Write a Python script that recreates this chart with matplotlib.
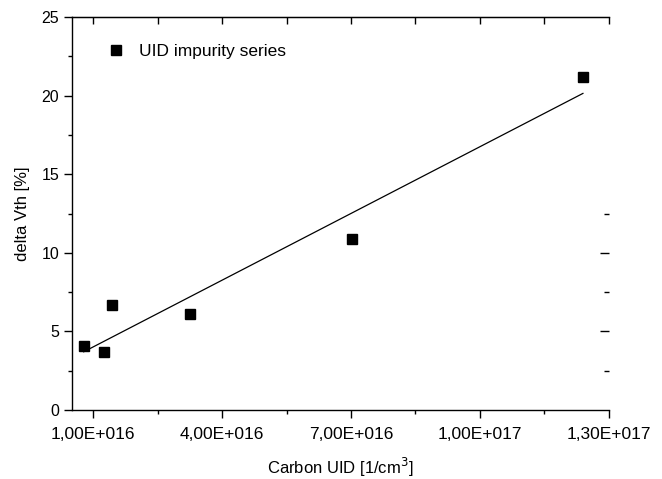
import numpy as np
import matplotlib.pyplot as plt
from matplotlib.ticker import FixedLocator, FixedFormatter, MultipleLocator

plt.rcParams['font.family'] = ['Liberation Sans', 'DejaVu Sans']

# measured data (carbon UID in 1/cm^3, delta Vth in %)
carbon = np.array([0.78e16, 1.26e16, 1.43e16, 3.25e16, 7.03e16, 12.40e16])
dvth = np.array([4.05, 3.69, 6.68, 6.11, 10.88, 21.18])

xticks = [1e16, 4e16, 7e16, 1e17, 1.3e17]
xminor = [2.5e16, 5.5e16, 8.5e16, 1.15e17]
xticklabels = ['1,00E+016', '4,00E+016', '7,00E+016', '1,00E+017', '1,30E+017']

# linear fit drawn over the data range
slope, icept = np.polyfit(carbon, dvth, 1)
xfit = np.array([carbon.min(), carbon.max()])
yfit = slope * xfit + icept

fig = plt.figure(figsize=(6.62, 4.79), dpi=100)
ax = fig.add_axes([0.1083, 0.144, 0.8112, 0.8205])

ax.plot(carbon, dvth, 's', color='black', ms=7, label='UID impurity series')
ax.plot(xfit, yfit, '-', color='black', lw=0.9)

ax.set_xlim(0.5e16, 1.3e17)
ax.set_ylim(0, 25)

ax.xaxis.set_major_locator(FixedLocator(xticks))
ax.xaxis.set_major_formatter(FixedFormatter(xticklabels))
ax.xaxis.set_minor_locator(FixedLocator(xminor))
ax.yaxis.set_major_locator(MultipleLocator(5))
ax.yaxis.set_minor_locator(MultipleLocator(2.5))

ax.spines['right'].set_visible(False)
for s in ['left', 'bottom', 'top']:
    ax.spines[s].set_linewidth(1.0)

ax.tick_params(axis='x', which='major', direction='out', length=6, width=1, labelsize=12.5, pad=6)
ax.tick_params(axis='x', which='minor', direction='out', length=3, width=1)
ax.tick_params(axis='y', which='major', direction='out', length=6, width=1, labelsize=11.5, pad=3)
ax.tick_params(axis='y', which='minor', direction='out', length=3, width=1)

# top ticks (inward, no labels)
top = ax.secondary_xaxis('top')
top.xaxis.set_major_locator(FixedLocator(xticks))
top.xaxis.set_minor_locator(FixedLocator(xminor))
top.tick_params(which='both', direction='in', length=5, width=1, labeltop=False)

# right ticks (inward, partial)
tw = ax.twinx()
tw.set_ylim(0, 25)
tw.yaxis.set_major_locator(FixedLocator([5, 10]))
tw.yaxis.set_minor_locator(FixedLocator([2.5, 7.5, 12.5]))
tw.tick_params(which='major', direction='in', length=6.5, width=1, labelright=False)
tw.tick_params(which='minor', direction='in', length=3.5, width=1)
for s in tw.spines.values():
    s.set_visible(False)

ax.set_xlabel('Carbon UID [1/cm$^3$]', fontsize=12, labelpad=10)
ax.set_ylabel('delta Vth [%]', fontsize=12, labelpad=8)

ax.legend(loc='upper left', frameon=False, fontsize=12.5, handlelength=0.8,
          handletextpad=0.9, borderaxespad=0, bbox_to_anchor=(0.057, 0.95),
          numpoints=1)

fig.savefig('out.png', dpi=100)
